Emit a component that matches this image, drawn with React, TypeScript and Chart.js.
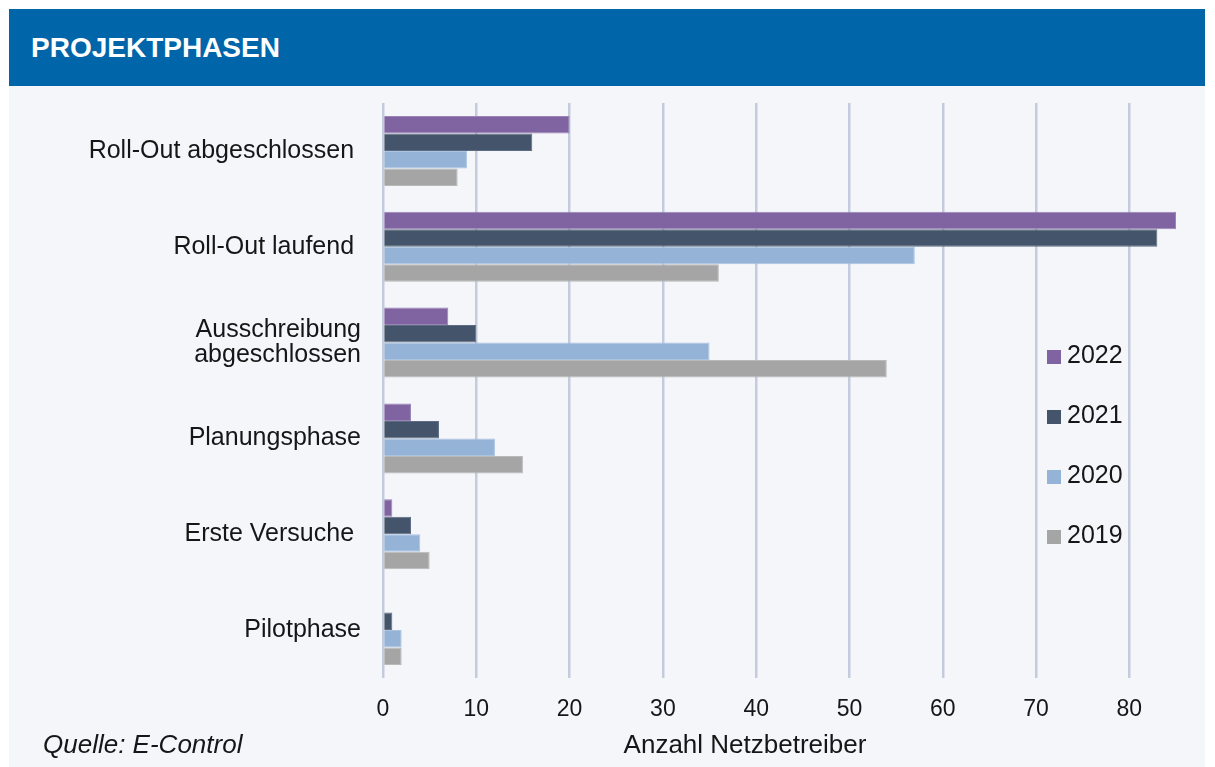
import React, { useEffect, useRef } from "react";
import { Chart, registerables } from "chart.js";

Chart.register(...registerables);

// ---- data ----
const categories: (string | string[])[] = [
  "Roll-Out abgeschlossen ",
  "Roll-Out laufend ",
  ["Ausschreibung", "abgeschlossen"],
  "Planungsphase",
  "Erste Versuche ",
  "Pilotphase",
];
const seriesNames = ["2022", "2021", "2020", "2019"];
const values2022 = [20, 85, 7, 3, 1, 0];
const values2021 = [16, 83, 10, 6, 3, 1];
const values2020 = [9, 57, 35, 12, 4, 2];
const values2019 = [8, 36, 54, 15, 5, 2];
const xTicks = [0, 10, 20, 30, 40, 50, 60, 70, 80];
const xMax = 85;
const chartTitle = "PROJEKTPHASEN";
const xAxisTitle = "Anzahl Netzbetreiber";
const sourceText = "Quelle: E-Control";

const seriesColors = ["#8064A2", "#44546A", "#95B3D7", "#A5A5A5"];
const seriesBorders = ["#9a84b8", "#5d6c82", "#aac4e2", "#b9b9b9"];

const FONT = "'Liberation Sans', Arial, sans-serif";
const TEXT = "#161616";
const BG = "#f4f6fa";

const overlayPlugin = {
  id: "overlay",
  afterDraw(chart: any) {
    const ctx = chart.ctx as CanvasRenderingContext2D;
    ctx.save();
    // legend
    const sq = 14;
    const legendX = 1038;
    const legendY0 = 271;
    const gap = 60;
    chart.data.datasets.forEach((ds: any, i: number) => {
      const cy = legendY0 + i * gap;
      ctx.fillStyle = ds.backgroundColor;
      ctx.fillRect(legendX, cy - sq / 2, sq, sq);
      ctx.fillStyle = TEXT;
      ctx.font = `25px ${FONT}`;
      ctx.textBaseline = "middle";
      ctx.textAlign = "left";
      ctx.fillText(ds.label, legendX + 20, cy - 1);
    });
    // axis title
    ctx.font = `26px ${FONT}`;
    ctx.textAlign = "center";
    ctx.textBaseline = "middle";
    ctx.fillStyle = TEXT;
    ctx.fillText(xAxisTitle, 736, 660);
    // source
    ctx.font = `italic 26px ${FONT}`;
    ctx.textAlign = "left";
    ctx.fillText(sourceText, 34, 660);
    ctx.restore();
  },
};

export default function App() {
  const canvasRef = useRef<HTMLCanvasElement | null>(null);

  useEffect(() => {
    if (!canvasRef.current) return;
    const series = [values2022, values2021, values2020, values2019];
    const chart = new Chart(canvasRef.current, {
      type: "bar",
      data: {
        labels: categories,
        datasets: series.map((vals, i) => ({
          label: seriesNames[i],
          data: vals,
          backgroundColor: seriesColors[i],
          borderColor: seriesBorders[i],
          borderWidth: 1,
          barPercentage: 1,
          categoryPercentage: 0.73,
        })),
      },
      options: {
        indexAxis: "y",
        responsive: false,
        animation: false,
        layout: { padding: { top: 17, right: 29, bottom: 0, left: 0 } },
        plugins: {
          legend: { display: false },
          tooltip: { enabled: false },
          title: { display: false },
        },
        scales: {
          x: {
            min: 0,
            max: xMax,
            afterBuildTicks: (scale: any) => {
              scale.ticks = xTicks.map((v) => ({ value: v }));
            },
            afterFit: (scale: any) => {
              scale.height = 89;
              scale.paddingLeft = 0;
              scale.paddingRight = 0;
            },
            grid: {
              color: "#c3cbdc",
              lineWidth: 2.5,
              drawTicks: false,
            },
            border: { display: false },
            ticks: {
              padding: 18,
              color: TEXT,
              font: { family: FONT, size: 23 },
              maxRotation: 0,
            },
          },
          y: {
            afterFit: (scale: any) => {
              scale.width = 374;
              scale.paddingTop = 0;
              scale.paddingBottom = 0;
            },
            grid: { display: false, drawTicks: false },
            border: { display: false },
            ticks: {
              padding: 22,
              color: TEXT,
              font: { family: FONT, size: 25, lineHeight: 1.0 },
            },
          },
        },
      },
      plugins: [overlayPlugin],
    } as any);
    return () => chart.destroy();
  }, []);

  return (
    <div
      style={{
        position: "absolute",
        left: 9,
        top: 9,
        width: 1196,
        height: 758,
        background: BG,
        overflow: "hidden",
      }}
    >
      <div
        style={{
          height: 77,
          background: "#0065a9",
          color: "#ffffff",
          fontFamily: FONT,
          fontWeight: "bold",
          fontSize: 28,
          lineHeight: "77px",
          paddingLeft: 22,
          boxSizing: "border-box",
        }}
      >
        {chartTitle}
      </div>
      <canvas
        ref={canvasRef}
        width={1196}
        height={681}
        style={{ display: "block", width: 1196, height: 681 }}
      />
    </div>
  );
}
